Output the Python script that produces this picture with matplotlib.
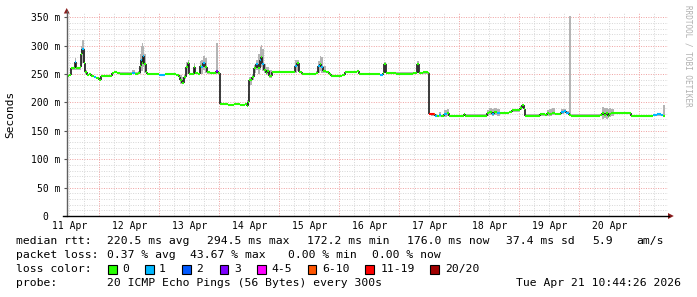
import matplotlib
matplotlib.use('Agg')
import matplotlib.pyplot as plt
from matplotlib.patches import Rectangle, Polygon
from matplotlib.collections import LineCollection
from matplotlib.lines import Line2D

# ---------------- data ----------------
t_days = [-0.04, 0.00, 0.03, 0.06, 0.09, 0.11, 0.15, 0.18, 0.20, 0.22, 0.24, 0.26, 0.29, 0.33, 0.37,
          0.41, 0.45, 0.49, 0.53, 0.58, 0.63, 0.68, 0.72, 0.75, 0.79, 0.85, 0.92, 1.00, 1.05, 1.10,
          1.14, 1.17, 1.19, 1.21, 1.23, 1.25, 1.27, 1.30, 1.40, 1.50, 1.60, 1.70, 1.78, 1.82, 1.85,
          1.88, 1.91, 1.94, 1.97, 2.00, 2.05, 2.08, 2.10, 2.14, 2.17, 2.20, 2.23, 2.26, 2.29, 2.35,
          2.42, 2.45, 2.48, 2.51, 2.55, 2.65, 2.75, 2.85, 2.92, 2.96, 2.98, 3.00, 3.04, 3.08, 3.11,
          3.14, 3.17, 3.19, 3.21, 3.24, 3.27, 3.30, 3.33, 3.37, 3.45, 3.55, 3.65, 3.73, 3.76, 3.79,
          3.82, 3.87, 3.95, 4.05, 4.11, 4.14, 4.17, 4.20, 4.23, 4.28, 4.33, 4.36, 4.45, 4.55, 4.60,
          4.70, 4.79, 4.82, 4.90, 5.00, 5.10, 5.18, 5.22, 5.25, 5.28, 5.35, 5.45, 5.55, 5.65, 5.73,
          5.79, 5.82, 5.90, 5.97, 6.00, 6.03, 6.07, 6.10, 6.13, 6.16, 6.20, 6.25, 6.29, 6.32, 6.40,
          6.50, 6.57, 6.60, 6.70, 6.80, 6.90, 6.96, 7.00, 7.04, 7.08, 7.12, 7.18, 7.25, 7.32, 7.38,
          7.45, 7.51, 7.54, 7.57, 7.60, 7.70, 7.79, 7.85, 7.92, 7.96, 8.00, 8.05, 8.10, 8.15, 8.19,
          8.24, 8.28, 8.32, 8.36, 8.45, 8.55, 8.65, 8.75, 8.85, 8.88, 8.91, 8.94, 8.97, 9.00, 9.03,
          9.07, 9.15, 9.25, 9.33, 9.36, 9.45, 9.55, 9.65, 9.73, 9.80, 9.86, 9.90, 9.93]

median_ms = [247, 248, 260, 260, 272, 260, 260, 262, 285, 295, 270, 254, 248, 250, 246,
             245, 243, 240, 246, 246, 247, 246, 252, 254, 252, 251, 251, 251, 252, 251,
             252, 265, 275, 270, 282, 268, 253, 250, 250, 249, 250, 250, 249, 245, 240,
             235, 245, 262, 270, 250, 250, 262, 252, 250, 265, 262, 270, 262, 253, 252,
             252, 255, 252, 198, 197, 196, 197, 196, 197, 194, 200, 239, 245, 260, 268,
             260, 275, 280, 268, 258, 252, 255, 246, 254, 254, 254, 254, 254, 265, 270,
             254, 250, 250, 250, 252, 265, 268, 262, 255, 254, 250, 247, 247, 248, 254,
             254, 255, 250, 250, 250, 250, 249, 252, 268, 252, 252, 251, 251, 251, 252,
             268, 252, 253, 252, 180, 179, 179, 177, 176, 178, 176, 180, 182, 176, 176,
             176, 180, 177, 177, 177, 177, 181, 183, 180, 184, 181, 181, 181, 183, 186,
             186, 190, 196, 188, 177, 177, 177, 179, 178, 182, 180, 182, 180, 180, 184,
             185, 182, 178, 177, 177, 177, 177, 177, 178, 182, 178, 181, 177, 180, 182,
             181, 181, 181, 181, 176, 176, 176, 176, 178, 179, 178, 177, 177]

smoke_lo_ms = [247, 246, 258, 258, 258, 258, 258, 258, 262, 270, 255, 250, 246, 248, 244,
               243, 241, 238, 244, 244, 245, 244, 250, 252, 250, 249, 249, 249, 250, 249,
               250, 250, 255, 255, 262, 252, 250, 248, 248, 247, 248, 248, 247, 243, 233,
               232, 242, 250, 255, 248, 248, 250, 250, 248, 252, 250, 258, 252, 251, 250,
               250, 250, 250, 196, 195, 194, 195, 194, 195, 192, 195, 230, 240, 252, 258,
               250, 258, 262, 255, 252, 248, 250, 243, 252, 252, 252, 252, 252, 252, 255,
               252, 248, 248, 248, 250, 252, 255, 252, 252, 252, 248, 245, 245, 246, 252,
               252, 253, 248, 248, 248, 248, 247, 250, 252, 250, 250, 249, 249, 249, 250,
               252, 250, 251, 250, 178, 177, 177, 175, 174, 174, 174, 174, 176, 174, 174,
               174, 176, 175, 175, 175, 175, 177, 178, 176, 178, 177, 179, 179, 181, 184,
               184, 187, 190, 185, 175, 175, 175, 177, 176, 176, 176, 178, 178, 178, 180,
               182, 180, 176, 175, 175, 175, 175, 175, 176, 170, 172, 170, 172, 175, 176,
               179, 179, 179, 179, 174, 174, 174, 174, 176, 176, 176, 176, 175]

smoke_hi_ms = [247, 250, 262, 262, 278, 262, 262, 266, 300, 310, 290, 258, 250, 252, 248,
               247, 245, 243, 248, 248, 249, 249, 254, 256, 254, 253, 253, 253, 258, 253,
               256, 285, 300, 305, 300, 285, 258, 252, 252, 251, 252, 252, 251, 248, 248,
               245, 248, 272, 275, 252, 252, 270, 254, 252, 273, 275, 282, 278, 255, 254,
               254, 305, 254, 200, 199, 198, 199, 198, 199, 205, 215, 245, 250, 266, 275,
               285, 298, 302, 295, 268, 262, 262, 258, 256, 256, 256, 256, 256, 275, 275,
               256, 252, 252, 252, 256, 273, 282, 280, 265, 256, 252, 249, 249, 250, 256,
               256, 257, 252, 252, 252, 252, 251, 254, 272, 254, 254, 253, 253, 253, 254,
               273, 254, 255, 254, 182, 181, 181, 179, 178, 183, 178, 186, 188, 178, 178,
               178, 182, 179, 179, 179, 179, 187, 190, 188, 190, 188, 183, 183, 185, 188,
               188, 193, 198, 192, 179, 179, 179, 181, 180, 186, 188, 190, 182, 182, 188,
               188, 185, 352, 179, 179, 179, 179, 179, 180, 192, 190, 190, 188, 190, 188,
               183, 183, 183, 183, 178, 178, 178, 178, 180, 182, 180, 195, 179]

loss_idx = [0, 0, 0, 0, 1, 0, 0, 0, 0, 1, 0, 0, 0, 0, 0,
            1, 0, 0, 0, 0, 0, 0, 0, 0, 0, 0, 0, 0, 1, 0,
            0, 0, 1, 0, 1, 0, 0, 0, 0, 1, 0, 0, 0, 0, 0,
            0, 0, 0, 0, 0, 0, 0, 0, 0, 0, 1, 1, 0, 0, 0,
            0, 3, 0, 0, 0, 0, 0, 0, 0, 0, 0, 0, 0, 0, 1,
            0, 1, 0, 1, 0, 0, 0, 0, 0, 0, 0, 0, 0, 1, 0,
            0, 0, 0, 0, 0, 1, 0, 1, 0, 0, 0, 0, 0, 0, 0,
            0, 0, 0, 0, 0, 0, 1, 0, 0, 0, 0, 0, 0, 0, 0,
            0, 0, 0, 0, 6, 6, 5, 1, 0, 1, 0, 1, 0, 0, 0,
            0, 0, 0, 0, 0, 0, 0, 0, 1, 0, 1, 0, 0, 0, 0,
            0, 0, 0, 0, 0, 0, 0, 0, 0, 0, 0, 0, 0, 0, 1,
            1, 1, 0, 0, 0, 0, 0, 0, 0, 0, 0, 0, 0, 0, 0,
            0, 0, 0, 0, 0, 0, 0, 0, 1, 1, 1, 0, 0]

loss_colors = ['#26ff00', '#00b8ff', '#0059ff', '#7e00ff', '#ff00ff', '#ff5500', '#ff0000', '#a00000']
loss_labels = ['0', '1', '2', '3', '4-5', '6-10', '11-19', '20/20']

day_ticks = [0, 1, 2, 3, 4, 5, 6, 7, 8, 9]
day_labels = ['11 Apr', '12 Apr', '13 Apr', '14 Apr', '15 Apr', '16 Apr',
              '17 Apr', '18 Apr', '19 Apr', '20 Apr']
y_ticks = [0, 50, 100, 150, 200, 250, 300, 350]
y_tick_labels = ['0  ', '50 m', '100 m', '150 m', '200 m', '250 m', '300 m', '350 m']

rtt_items = ['median rtt:', '220.5 ms avg', '294.5 ms max', '172.2 ms min',
             '176.0 ms now', '37.4 ms sd', '5.9', 'am/s']
loss_items = ['packet loss:', '0.37 % avg', '43.67 % max', '0.00 % min', '0.00 % now']
probe_text = '20 ICMP Echo Pings (56 Bytes) every 300s'
date_text = 'Tue Apr 21 10:44:26 2026'

# ---------------- layout ----------------
W, H = 697, 297
MONO = 'DejaVu Sans Mono'
plt.rcParams['font.family'] = MONO

def fx(x):
    return x / W

def fy(y):
    return 1 - y / H

fig = plt.figure(figsize=(W / 100, H / 100), dpi=100)
fig.patch.set_facecolor('white')
AX_L, AX_R = 66.7, 668
ax = fig.add_axes([fx(AX_L), fy(216), (AX_R - AX_L) / W, (216 - 13) / H])
x0, x1 = -0.0433, 9.978
y0, y1 = 0, 357.6
ax.set_xlim(x0, x1)
ax.set_ylim(y0, y1)
for s in ax.spines.values():
    s.set_visible(False)

# grid
minor_col = '#d6d6d6'
major_col = '#efa0a0'
for v in range(10, 360, 10):
    col = major_col if v % 50 == 0 else minor_col
    ax.axhline(v, color=col, lw=0.7, ls=(0, (1, 1.5)), zorder=1)
k = 0
while k * 0.25 < x1:
    col = major_col if k % 4 == 2 else minor_col
    ax.axvline(k * 0.25, color=col, lw=0.7, ls=(0, (1, 1.5)), zorder=1)
    k += 1

# smoke
ax.fill_between(t_days, smoke_lo_ms, smoke_hi_ms, step='post', color='#b4b4b4', lw=0, zorder=2)

# median: vertical connectors dark, horizontal steps colored by loss
n = len(t_days)
vsegs = [((t_days[i + 1], median_ms[i]), (t_days[i + 1], median_ms[i + 1])) for i in range(n - 1)]
hsegs = [((t_days[i], median_ms[i]), (t_days[i + 1], median_ms[i])) for i in range(n - 1)]
hcols = [loss_colors[loss_idx[i]] for i in range(n - 1)]
ax.add_collection(LineCollection(vsegs, colors='#1a1a1a', linewidths=1.2, zorder=3))
ax.add_collection(LineCollection(hsegs, colors=hcols, linewidths=1.5, zorder=4, capstyle='butt'))

# ticks
ax.set_xticks(day_ticks)
ax.set_xticklabels(day_labels, fontsize=7, family=MONO)
ax.set_yticks(y_ticks)
ax.set_yticklabels(y_tick_labels, fontsize=7, family=MONO)
ax.tick_params(axis='x', length=0, pad=3.5, colors='black')
ax.tick_params(axis='y', length=2.5, pad=2.2, colors='#555555', labelcolor='black')
ax.set_ylabel('Seconds', fontsize=8, family=MONO)
ax.yaxis.set_label_coords((15 - AX_L) / (AX_R - AX_L), 0.5)

# axis lines and arrows (figure pixel coords)
fig.add_artist(Line2D([fx(66.7), fx(66.7)], [fy(216), fy(11)], color='#606060', lw=1.0))
fig.add_artist(Line2D([fx(63), fx(669)], [fy(216), fy(216)], color='black', lw=1.0))
fig.add_artist(Polygon([(fx(63.8), fy(13.5)), (fx(69.6), fy(13.5)), (fx(66.7), fy(8))],
                       closed=True, color='#8b1c1c', lw=0))
fig.add_artist(Polygon([(fx(668), fy(213)), (fx(668), fy(219)), (fx(673.8), fy(216))],
                       closed=True, color='#8b1c1c', lw=0))

# watermark
fig.text(fx(688), fy(5), 'RRDTOOL / TOBI OETIKER', rotation=270, fontsize=5.5, family=MONO,
         color='#b0b0b0', ha='center', va='top')

# legend text
FS = 8.2
rtt_x = [16, 107, 207, 307, 407, 506, 592, 636]
for txt, xp in zip(rtt_items, rtt_x):
    fig.text(fx(xp), fy(241), txt, fontsize=FS, family=MONO, va='center', ha='left')
loss_x = [16, 107, 190, 288, 372]
for txt, xp in zip(loss_items, loss_x):
    fig.text(fx(xp), fy(255), txt, fontsize=FS, family=MONO, va='center', ha='left')
fig.text(fx(16), fy(269), 'loss color:', fontsize=FS, family=MONO, va='center', ha='left')
box_x = [108, 145.3, 182.2, 220, 257, 307.6, 365.3, 430.2]
lab_x = [122, 159, 196.4, 234, 271, 322.7, 380.4, 445.3]
for c, lab, bx, lx in zip(loss_colors, loss_labels, box_x, lab_x):
    fig.add_artist(Rectangle((fx(bx), fy(273.5)), 8.5 / W, 9 / H, facecolor=c,
                             edgecolor='black', lw=0.8))
    fig.text(fx(lx), fy(269), lab, fontsize=FS, family=MONO, va='center', ha='left')
fig.text(fx(16), fy(283), 'probe:', fontsize=FS, family=MONO, va='center', ha='left')
fig.text(fx(107), fy(283), probe_text, fontsize=FS, family=MONO, va='center', ha='left')
fig.text(fx(681), fy(283), date_text, fontsize=FS, family=MONO, va='center', ha='right')

fig.savefig('out.png', dpi=100, facecolor='white')
